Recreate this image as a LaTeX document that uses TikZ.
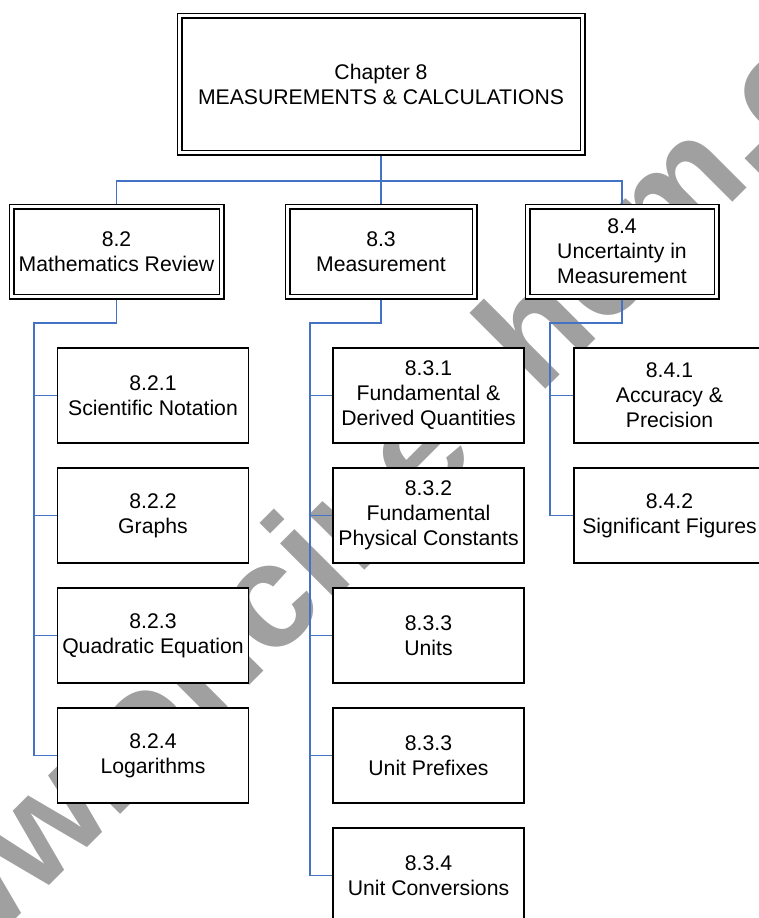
\documentclass[tikz,border=0pt]{standalone}
\usepackage{fontspec}
\setmainfont{Liberation Sans}
\definecolor{connblue}{RGB}{68,114,196}
\definecolor{wmgray}{RGB}{160,160,160}
\pgfdeclarelayer{wmlayer}
\pgfdeclarelayer{connlayer}
\pgfsetlayers{wmlayer,connlayer,main}
\tikzset{
  dblbox/.style={draw, double, double distance=3pt, line width=1.5pt, fill=white,
    align=center, inner sep=0pt, font=\fontsize{21.2}{25}\selectfont},
  sbox/.style={draw, line width=1.6pt, fill=white, minimum width=191pt, minimum height=95pt,
    align=center, inner sep=0pt, font=\fontsize{21.2}{25}\selectfont},
  conn/.style={draw=connblue, line width=1.8pt},
  wmark/.style={text=wmgray, inner sep=0pt, font=\fontsize{148}{148}\selectfont\bfseries}
}
\begin{document}
\begin{tikzpicture}[x=1pt,y=-1pt]
\useasboundingbox (0,0) rectangle (759,918);
\clip (0,0) rectangle (759,918);
% boxes
\node[dblbox, minimum width=403pt, minimum height=137pt] (top) at (381,84) {Chapter 8\\MEASUREMENTS \& CALCULATIONS};
\node[dblbox, minimum width=210pt, minimum height=90pt] (s82) at (116.5,251.5) {8.2\\Mathematics Review};
\node[dblbox, minimum width=187pt, minimum height=90pt] (s83) at (381,251.5) {8.3\\Measurement};
\node[dblbox, minimum width=189pt, minimum height=90pt] (s84) at (622,251.5) {8.4\\Uncertainty in\\Measurement};
\node[sbox] (a1) at (153,395.5) {8.2.1\\Scientific Notation};
\node[sbox] (a2) at (153,515.5) {8.2.2\\Graphs};
\node[sbox] (a3) at (153,635.5) {8.2.3\\Quadratic Equation};
\node[sbox] (a4) at (153,755.5) {8.2.4\\Logarithms};
\node[sbox] (b1) at (428.5,395.5) {8.3.1\\Fundamental \&\\Derived Quantities};
\node[sbox] (b2) at (428.5,515.5) {8.3.2\\Fundamental\\Physical Constants};
\node[sbox] (b3) at (428.5,635.5) {8.3.3\\Units};
\node[sbox] (b4) at (428.5,755.5) {8.3.3\\Unit Prefixes};
\node[sbox] (b5) at (428.5,875.5) {8.3.4\\Unit Conversions};
\node[sbox] (d1) at (669.5,395.5) {8.4.1\\Accuracy \&\\Precision};
\node[sbox] (d2) at (669.5,515.5) {8.4.2\\Significant Figures};
% watermark
\begin{pgfonlayer}{wmlayer}
\fill[white] (0,0) rectangle (759,918);
\node[wmark, rotate=45, anchor=base west] (wm) at (-127,1062) {www.oncinechem.com};
\end{pgfonlayer}
% connectors
\begin{pgfonlayer}{connlayer}
\coordinate (bus) at (381,181);
\coordinate (c1) at (34,323);
\coordinate (c2) at (310,323);
\coordinate (c3) at (550,323);
\draw[conn] (top.south) -- (bus);
\draw[conn] (bus) -| (s82.north);
\draw[conn] (bus) -| (s84.north);
\draw[conn] (bus) -- (s83.north);
\draw[conn] (s82.south) |- (c1) |- (a4.west);
\draw[conn] (c1 |- a1.west) -- (a1.west);
\draw[conn] (c1 |- a2.west) -- (a2.west);
\draw[conn] (c1 |- a3.west) -- (a3.west);
\draw[conn] (s83.south) |- (c2) |- (b5.west);
\draw[conn] (c2 |- b1.west) -- (b1.west);
\draw[conn] (c2 |- b2.west) -- (b2.west);
\draw[conn] (c2 |- b3.west) -- (b3.west);
\draw[conn] (c2 |- b4.west) -- (b4.west);
\draw[conn] (s84.south) |- (c3) |- (d2.west);
\draw[conn] (c3 |- d1.west) -- (d1.west);
\end{pgfonlayer}
\end{tikzpicture}
\end{document}
